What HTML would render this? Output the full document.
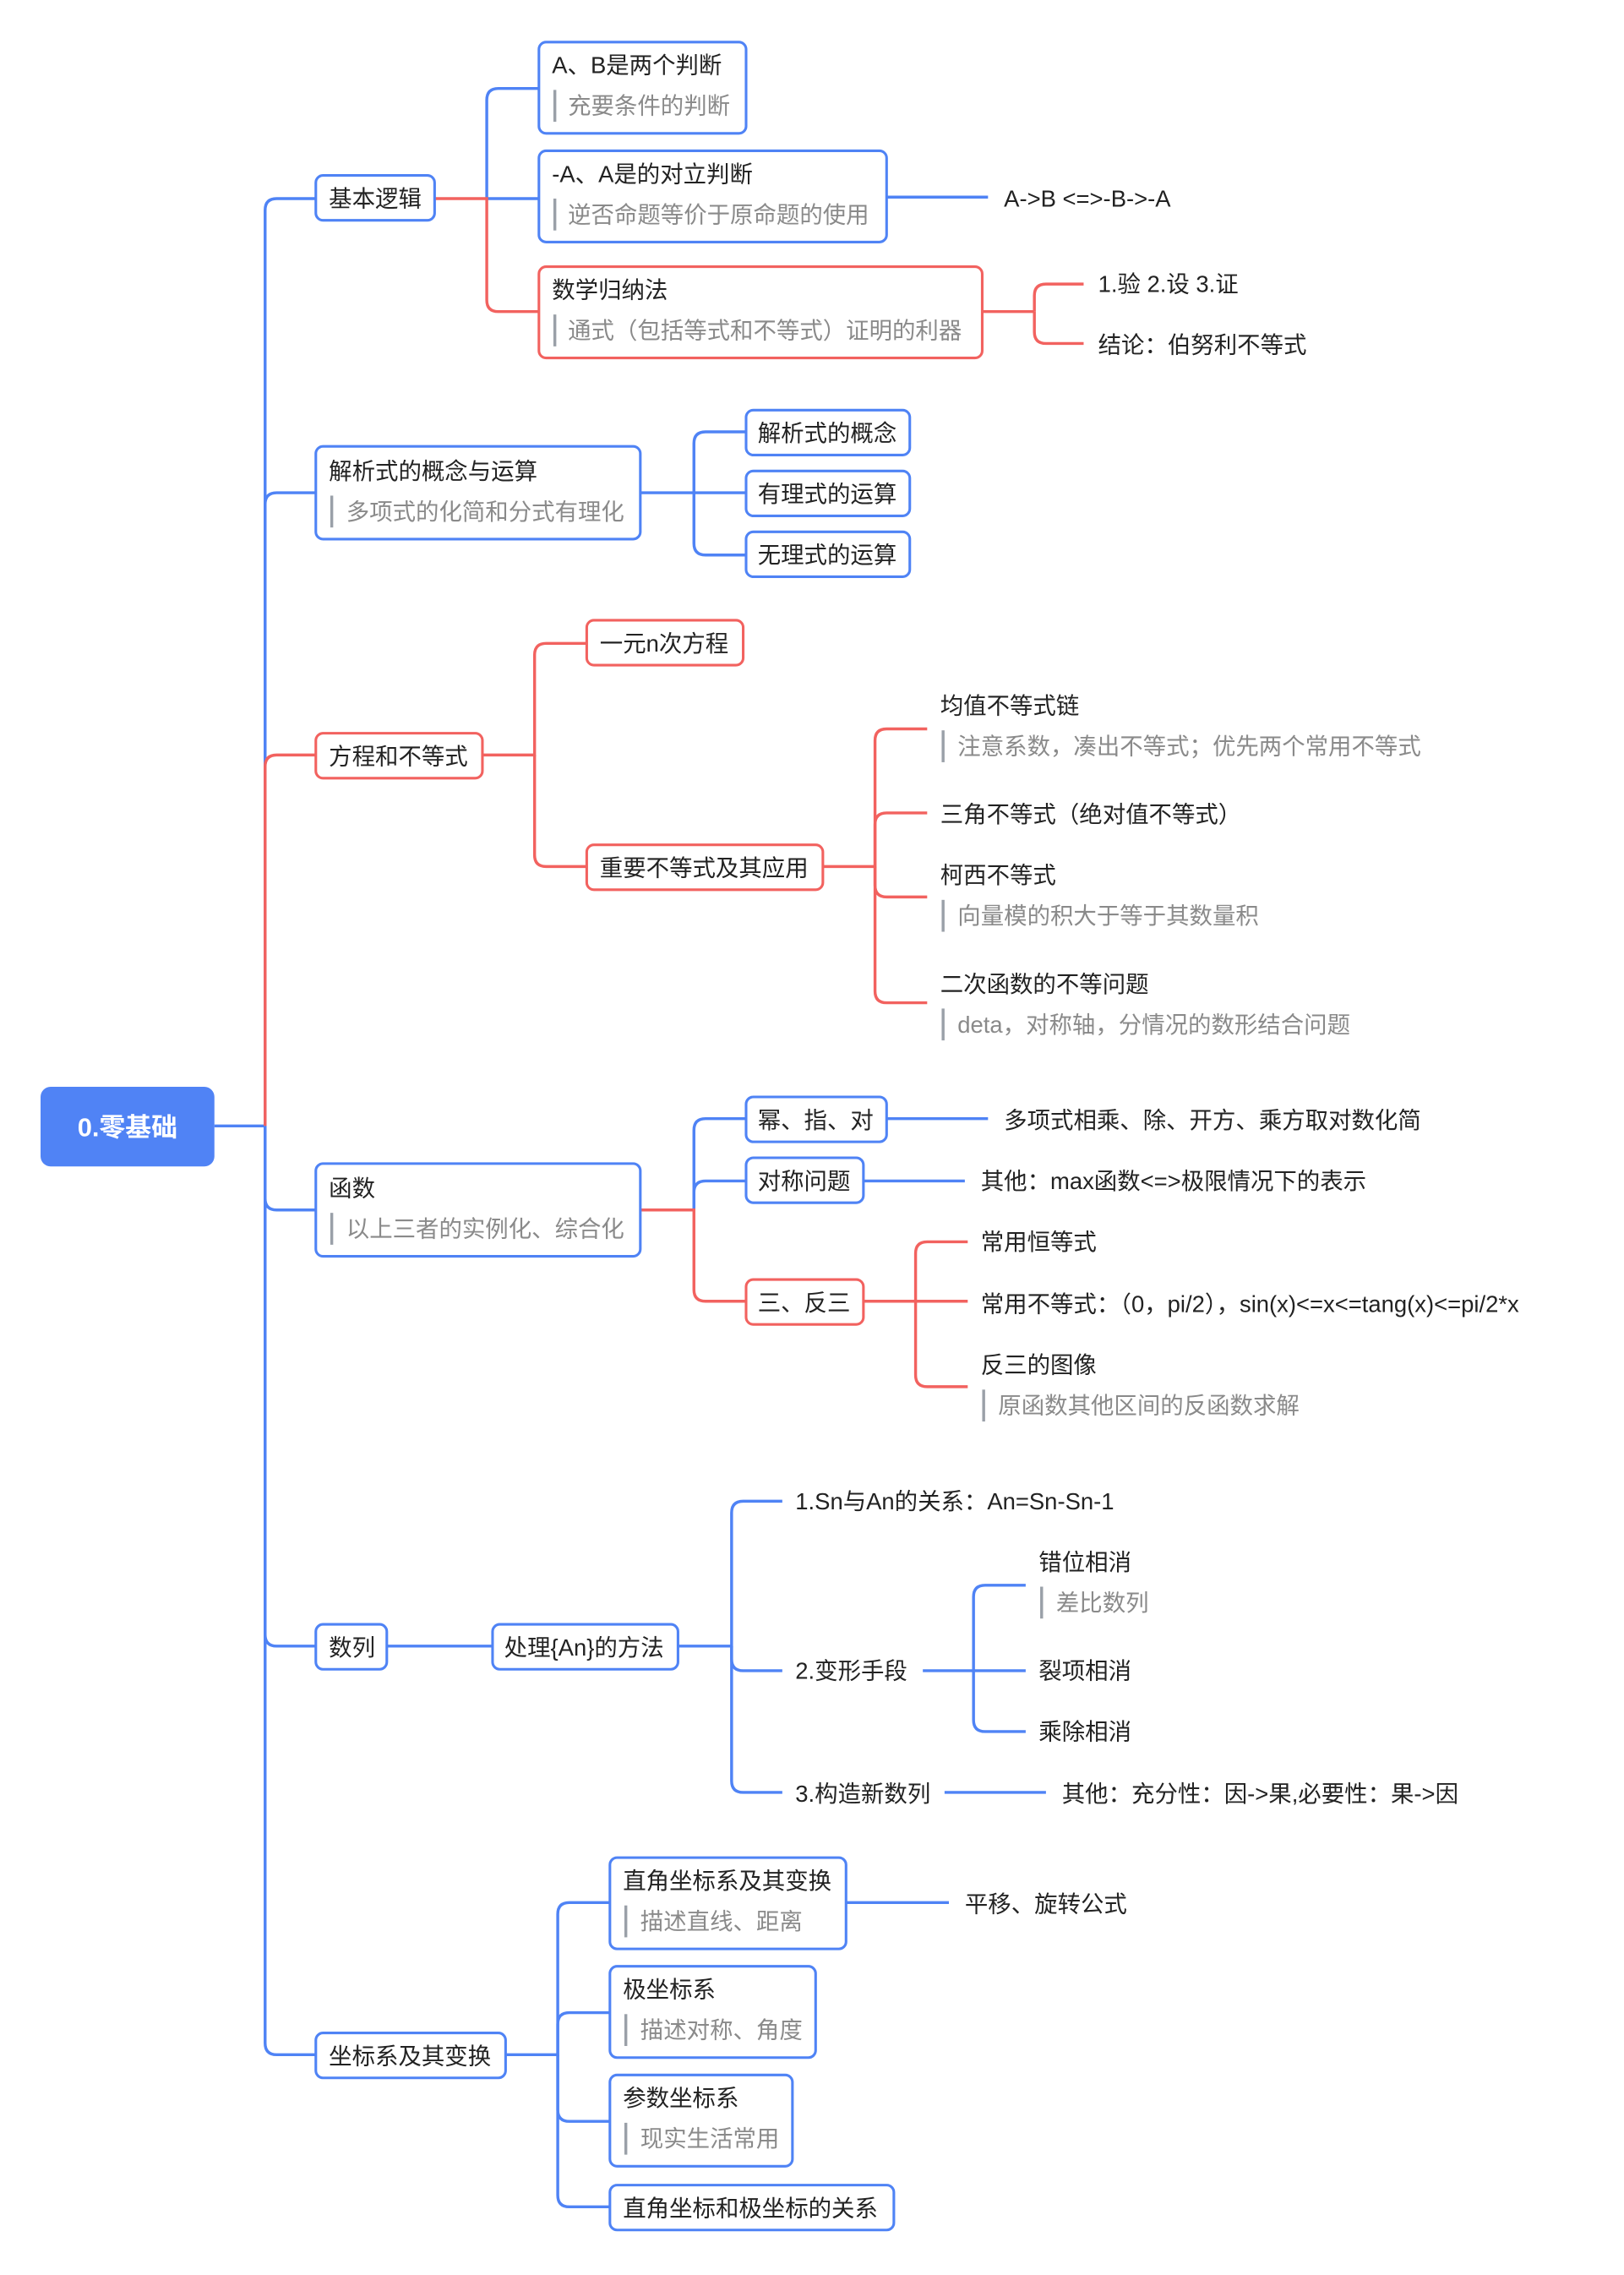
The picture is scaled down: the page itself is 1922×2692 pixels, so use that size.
<!DOCTYPE html>
<html><head><meta charset="utf-8"><style>
html,body{margin:0;padding:0;background:#fff;}
svg{display:block;}
text{font-family:"Liberation Sans","Noto Sans CJK SC",sans-serif;font-size:16px;fill:#222;dominant-baseline:central;}
.s{fill:#8a8a8a;}
.b{fill:none;stroke:#4f83f5;stroke-width:2;}
.r{fill:none;stroke:#f2625f;stroke-width:2;}
.bx{fill:#fff;stroke:#4f83f5;stroke-width:1.8;}
.rx{fill:#fff;stroke:#f2625f;stroke-width:1.8;}
.bar{stroke:#9aa0a8;stroke-width:2;}
</style></head><body>
<svg width="1922" height="2692" viewBox="0 0 1121 1570" xmlns="http://www.w3.org/2000/svg">
<!-- trunk -->
<path class="b" d="M148 777 H183"/>
<path class="b" d="M183 777 V145 Q183 137 191 137 H218"/>
<path class="b" d="M183 777 V348 Q183 340 191 340 H218"/>
<path class="b" d="M183 777 V827 Q183 835 191 835 H218"/>
<path class="b" d="M183 777 V1128 Q183 1136 191 1136 H218"/>
<path class="b" d="M183 777 V1410 Q183 1418 191 1418 H218"/>
<path class="r" d="M183 777 V529 Q183 521 191 521 H218"/>

<!-- 基本逻辑 -->
<path class="b" d="M336 137 V69 Q336 61 344 61 H372"/>
<path class="b" d="M336 137 H372"/>
<path class="r" d="M300 137 H336 V207 Q336 215 344 215 H372"/>
<path class="b" d="M612 136 H682"/>
<path class="r" d="M678 215 H714"/>
<path class="r" d="M714 215 V204 Q714 196 722 196 H748"/>
<path class="r" d="M714 215 V229 Q714 237 722 237 H748"/>

<!-- 解析式 -->
<path class="b" d="M442 340 H479 V306 Q479 298 487 298 H515"/>
<path class="b" d="M479 340 H515"/>
<path class="b" d="M479 340 V375 Q479 383 487 383 H515"/>

<!-- 方程和不等式 -->
<path class="r" d="M333 521 H369 V452 Q369 444 377 444 H405"/>
<path class="r" d="M369 521 V590 Q369 598 377 598 H405"/>
<path class="r" d="M568 598 H604 V511 Q604 503 612 503 H640"/>
<path class="r" d="M604 598 V569 Q604 561 612 561 H640"/>
<path class="r" d="M604 598 V611 Q604 619 612 619 H640"/>
<path class="r" d="M604 598 V684 Q604 692 612 692 H640"/>

<!-- 函数 -->
<path class="b" d="M479 835 V780 Q479 772 487 772 H515"/>
<path class="b" d="M479 835 V823 Q479 815 487 815 H515"/>
<path class="r" d="M442 835 H479 V890 Q479 898 487 898 H515"/>
<path class="b" d="M612 772 H682"/>
<path class="b" d="M596 815 H666"/>
<path class="r" d="M596 898 H632 V865 Q632 857 640 857 H668"/>
<path class="r" d="M632 898 H668"/>
<path class="r" d="M632 898 V949 Q632 957 640 957 H668"/>

<!-- 数列 -->
<path class="b" d="M267 1136 H340"/>
<path class="b" d="M468 1136 H505 V1044 Q505 1036 513 1036 H540"/>
<path class="b" d="M505 1136 V1145 Q505 1153 513 1153 H540"/>
<path class="b" d="M505 1136 V1229 Q505 1237 513 1237 H540"/>
<path class="b" d="M637 1153 H672 V1102 Q672 1094 680 1094 H708"/>
<path class="b" d="M672 1153 H708"/>
<path class="b" d="M672 1153 V1187 Q672 1195 680 1195 H708"/>
<path class="b" d="M652 1237 H722"/>

<!-- 坐标系 -->
<path class="b" d="M349 1418 H385 V1321 Q385 1313 393 1313 H421"/>
<path class="b" d="M385 1418 V1397 Q385 1389 393 1389 H421"/>
<path class="b" d="M385 1418 V1456 Q385 1464 393 1464 H421"/>
<path class="b" d="M385 1418 V1515 Q385 1523 393 1523 H421"/>
<path class="b" d="M584 1313 H655"/>

<!-- root -->
<rect x="28" y="750" width="120" height="55" rx="7" fill="#5083f5"/>
<text x="88" y="778" text-anchor="middle" style="fill:#fff;font-weight:bold;font-size:18px">0.零基础</text>

<!-- level1 -->
<rect class="bx" x="218" y="121" width="82" height="31" rx="5"/><text x="227" y="137">基本逻辑</text>
<rect class="bx" x="218" y="308" width="224" height="64" rx="5"/><text x="227" y="325">解析式的概念与运算</text>
<line class="bar" x1="229" y1="342" x2="229" y2="364"/><text class="s" x="239" y="353">多项式的化简和分式有理化</text>
<rect class="rx" x="218" y="506" width="115" height="31" rx="5"/><text x="227" y="522">方程和不等式</text>
<rect class="bx" x="218" y="803" width="224" height="64" rx="5"/><text x="227" y="820">函数</text>
<line class="bar" x1="229" y1="837" x2="229" y2="859"/><text class="s" x="239" y="848">以上三者的实例化、综合化</text>
<rect class="bx" x="218" y="1121" width="49" height="31" rx="5"/><text x="227" y="1137">数列</text>
<rect class="bx" x="218" y="1403" width="131" height="31" rx="5"/><text x="227" y="1419">坐标系及其变换</text>

<!-- 基本逻辑 children -->
<rect class="bx" x="372" y="29" width="143" height="63" rx="5"/><text x="381" y="45">A、B是两个判断</text>
<line class="bar" x1="383" y1="62" x2="383" y2="84"/><text class="s" x="392" y="73">充要条件的判断</text>
<rect class="bx" x="372" y="104" width="240" height="63" rx="5"/><text x="381" y="120">-A、A是的对立判断</text>
<line class="bar" x1="383" y1="137" x2="383" y2="159"/><text class="s" x="392" y="148">逆否命题等价于原命题的使用</text>
<text x="693" y="137">A-&gt;B &lt;=&gt;-B-&gt;-A</text>
<rect class="rx" x="372" y="184" width="306" height="63" rx="5"/><text x="381" y="200">数学归纳法</text>
<line class="bar" x1="383" y1="217" x2="383" y2="239"/><text class="s" x="392" y="228">通式（包括等式和不等式）证明的利器</text>
<text x="758" y="196">1.验 2.设 3.证</text>
<text x="758" y="238">结论：伯努利不等式</text>

<!-- 解析式 children -->
<rect class="bx" x="515" y="283" width="113" height="31" rx="5"/><text x="523" y="299">解析式的概念</text>
<rect class="bx" x="515" y="325" width="113" height="31" rx="5"/><text x="523" y="341">有理式的运算</text>
<rect class="bx" x="515" y="367" width="113" height="31" rx="5"/><text x="523" y="383">无理式的运算</text>

<!-- 方程 children -->
<rect class="rx" x="405" y="428" width="108" height="31" rx="5"/><text x="414" y="444">一元n次方程</text>
<rect class="rx" x="405" y="583" width="163" height="31" rx="5"/><text x="414" y="599">重要不等式及其应用</text>
<text x="649" y="487">均值不等式链</text>
<line class="bar" x1="651" y1="504" x2="651" y2="526"/><text class="s" x="661" y="515">注意系数，凑出不等式；优先两个常用不等式</text>
<text x="649" y="562">三角不等式（绝对值不等式）</text>
<text x="649" y="604">柯西不等式</text>
<line class="bar" x1="651" y1="621" x2="651" y2="643"/><text class="s" x="661" y="632">向量模的积大于等于其数量积</text>
<text x="649" y="679">二次函数的不等问题</text>
<line class="bar" x1="651" y1="696" x2="651" y2="718"/><text class="s" x="661" y="707">deta，对称轴，分情况的数形结合问题</text>

<!-- 函数 children -->
<rect class="bx" x="515" y="757" width="97" height="31" rx="5"/><text x="523" y="773">幂、指、对</text>
<text x="693" y="773">多项式相乘、除、开方、乘方取对数化简</text>
<rect class="bx" x="515" y="799" width="81" height="31" rx="5"/><text x="523" y="815">对称问题</text>
<text x="677" y="815">其他：max函数&lt;=&gt;极限情况下的表示</text>
<rect class="rx" x="515" y="883" width="81" height="31" rx="5"/><text x="523" y="899">三、反三</text>
<text x="677" y="857">常用恒等式</text>
<text x="677" y="900">常用不等式：（0，pi/2），sin(x)&lt;=x&lt;=tang(x)&lt;=pi/2*x</text>
<text x="677" y="942">反三的图像</text>
<line class="bar" x1="679" y1="959" x2="679" y2="981"/><text class="s" x="689" y="970">原函数其他区间的反函数求解</text>

<!-- 数列 children -->
<rect class="bx" x="340" y="1121" width="128" height="31" rx="5"/><text x="348" y="1137">处理{An}的方法</text>
<text x="549" y="1036">1.Sn与An的关系：An=Sn-Sn-1</text>
<text x="549" y="1153">2.变形手段</text>
<text x="549" y="1238">3.构造新数列</text>
<text x="717" y="1078">错位相消</text>
<line class="bar" x1="719" y1="1095" x2="719" y2="1117"/><text class="s" x="729" y="1106">差比数列</text>
<text x="717" y="1153">裂项相消</text>
<text x="717" y="1195">乘除相消</text>
<text x="733" y="1238">其他：充分性：因-&gt;果,必要性：果-&gt;因</text>

<!-- 坐标系 children -->
<rect class="bx" x="421" y="1282" width="163" height="63" rx="5"/><text x="430" y="1298">直角坐标系及其变换</text>
<line class="bar" x1="432" y1="1315" x2="432" y2="1337"/><text class="s" x="442" y="1326">描述直线、距离</text>
<text x="666" y="1314">平移、旋转公式</text>
<rect class="bx" x="421" y="1357" width="142" height="63" rx="5"/><text x="430" y="1373">极坐标系</text>
<line class="bar" x1="432" y1="1390" x2="432" y2="1412"/><text class="s" x="442" y="1401">描述对称、角度</text>
<rect class="bx" x="421" y="1432" width="126" height="63" rx="5"/><text x="430" y="1448">参数坐标系</text>
<line class="bar" x1="432" y1="1465" x2="432" y2="1487"/><text class="s" x="442" y="1476">现实生活常用</text>
<rect class="bx" x="421" y="1508" width="196" height="31" rx="5"/><text x="430" y="1524">直角坐标和极坐标的关系</text>
</svg>
</body></html>
